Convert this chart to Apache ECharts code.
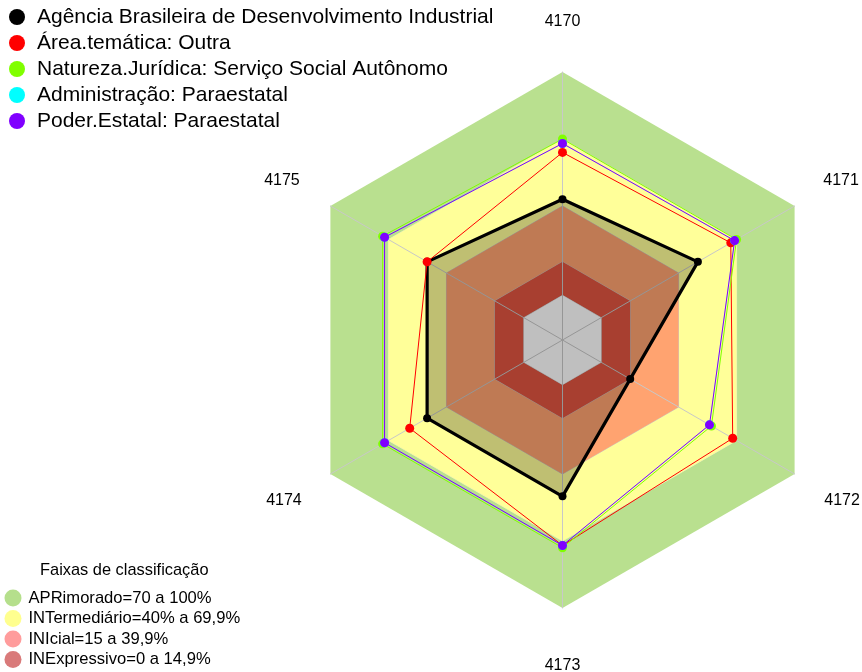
<!DOCTYPE html>
<html><head><meta charset="utf-8">
<script src="https://cdn.jsdelivr.net/npm/echarts@6/dist/echarts.min.js"></script>
<style>html,body{margin:0;padding:0;background:#fff}#c{width:862px;height:672px}</style>
</head><body><div id="c"></div>
<script>
// ---- data ----
const indicators = ['4170', '4171', '4172', '4173', '4174', '4175'];
const seriesNames = [
  'Agência Brasileira de Desenvolvimento Industrial',
  'Área.temática: Outra',
  'Natureza.Jurídica: Serviço Social Autônomo',
  'Administração: Paraestatal',
  'Poder.Estatal: Paraestatal'
];
const agencia       = [43, 50, 15, 50, 50, 50];
const areaTematica  = [64, 67, 68, 72, 59, 50];
const natureza      = [70, 70, 57, 73, 73, 73];
const administracao = [68, 69, 56, 72, 72, 72];
const poder         = [68, 69, 56, 72, 72, 72];
const bandNames = ['APRimorado=70 a 100%', 'INTermediário=40% a 69,9%', 'INIcial=15 a 39,9%', 'INExpressivo=0 a 14,9%'];
const bandLimits = [100, 70, 40, 15];
const holeLimit = 0;
const axisMin = -20, axisMax = 100;
const legendTitle = 'Faixas de classificação';

// ---- styles ----
const FONT = "'Liberation Sans', Arial, sans-serif";
const seriesColors = ['#000000', '#ff0000', '#80ff00', '#00ffff', '#8000ff'];
const bandFill = ['#b9e08f', '#ffff99', '#ffa370', '#e05540'];
const bandLegendColors = ['#b5df8c', '#ffff8f', '#ff9c9c', '#d97a7a'];

// ECharts places indicators counter-clockwise; reference is clockwise
const order = [0, 5, 4, 3, 2, 1];
const reorder = arr => order.map(i => arr[i]);

const labelPad = {
  '4170': [0, 0, 32, 0],
  '4171': [0, 0, 40, 20],
  '4172': [44, 0, 0, 21],
  '4173': [40, 0, 0, 0],
  '4174': [44, 20, 0, 0],
  '4175': [0, 22, 40, 0]
};
const rich = {};
indicators.forEach(n => {
  rich['s' + n] = { fontSize: 16, fontFamily: FONT, color: '#000', padding: labelPad[n] };
});

const series = [];
bandLimits.forEach((lim, i) => {
  series.push({
    type: 'radar', name: bandNames[i], z: 1, silent: true, symbol: 'none',
    lineStyle: { color: i === 1 ? '#e4ecc0' : '#c8c8c8', width: 1, opacity: i === 0 ? 0 : 1 },
    areaStyle: { color: bandFill[i], opacity: 1 },
    itemStyle: { color: bandLegendColors[i] },
    data: [{ name: bandNames[i], value: indicators.map(() => lim) }]
  });
});
series.push({
  type: 'radar', name: 'hole', z: 1, silent: true, symbol: 'none',
  lineStyle: { color: '#c8c8c8', width: 1 },
  areaStyle: { color: '#ffffff', opacity: 1 },
  data: [{ name: 'hole', value: indicators.map(() => holeLimit) }]
});
const dataArrays = [agencia, areaTematica, natureza, administracao, poder];
dataArrays.forEach((arr, i) => {
  const s = {
    type: 'radar', name: seriesNames[i], z: 2 + i, symbol: 'circle',
    symbolSize: i === 0 ? 8 : 9,
    lineStyle: { color: seriesColors[i], width: i === 0 ? 3.2 : 1, opacity: i === 3 ? 0.25 : 1 },
    itemStyle: { color: seriesColors[i] },
    data: [{ name: seriesNames[i], value: reorder(arr) }]
  };
  if (i === 0) s.areaStyle = { color: 'rgba(0,0,0,0.25)', opacity: 1 };
  series.push(s);
});

const chart = echarts.init(document.getElementById('c'), null, { renderer: 'canvas' });
chart.setOption({
  animation: false,
  backgroundColor: '#ffffff',
  title: {
    text: legendTitle, left: 40, top: 562, padding: 0,
    textStyle: { fontSize: 16.4, fontWeight: 'normal', fontFamily: FONT, color: '#000' }
  },
  legend: [{
    data: seriesNames.map((n, i) => ({ name: n, itemStyle: { color: seriesColors[i], borderWidth: 0 } })),
    orient: 'vertical', left: 9, top: 6.5, padding: 0, icon: 'circle',
    itemWidth: 16, itemHeight: 16, itemGap: 5, selectedMode: false,
    textStyle: { fontSize: 21, lineHeight: 16, fontFamily: FONT, color: '#000', padding: [0, 0, 0, 7] }
  }, {
    data: bandNames.map((n, i) => ({ name: n, itemStyle: { color: bandLegendColors[i], borderWidth: 0 } })),
    orient: 'vertical', left: 4.5, top: 589.5, padding: 0, icon: 'circle',
    itemWidth: 17, itemHeight: 17, itemGap: 3.5, selectedMode: false,
    textStyle: { fontSize: 16.6, lineHeight: 17, fontFamily: FONT, color: '#000', padding: [0, 0, 0, 2] }
  }],
  radar: {
    center: [562.5, 340], radius: 268, startAngle: 90, shape: 'polygon', z: 1.5,
    indicator: reorder(indicators).map(n => ({ name: n, min: axisMin, max: axisMax })),
    splitLine: { show: false }, splitArea: { show: false },
    axisLine: { lineStyle: { color: '#c8c8c8', width: 1 } },
    axisTick: { show: false }, axisLabel: { show: false },
    nameGap: 10,
    axisName: { color: '#000', fontSize: 16, fontFamily: FONT, formatter: n => '{s' + n + '|' + n + '}', rich: rich }
  },
  series: series
});
</script>
</body></html>
